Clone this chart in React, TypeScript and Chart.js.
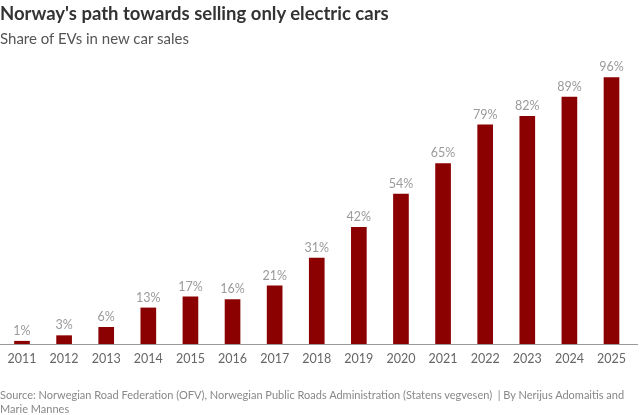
import React, { useEffect, useRef } from "react";
import { Chart, registerables } from "chart.js";

Chart.register(...registerables);

const years = ["2011", "2012", "2013", "2014", "2015", "2016", "2017", "2018", "2019", "2020", "2021", "2022", "2023", "2024", "2025"];
const evShare = [1, 3, 6, 13, 17, 16, 21, 31, 42, 54, 65, 79, 82, 89, 96];

const FONT = "Lato, 'Noto Sans', sans-serif";

const barLabels = {
  id: "barLabels",
  afterDatasetsDraw(chart: any) {
    const ctx = chart.ctx;
    const meta = chart.getDatasetMeta(0);
    ctx.save();
    ctx.font = `12.5px ${FONT}`;
    ctx.fillStyle = "#9a9a9a";
    ctx.textAlign = "center";
    ctx.textBaseline = "bottom";
    meta.data.forEach((el: any, i: number) => {
      ctx.fillText(`${evShare[i]}%`, el.x, el.y - 4);
    });
    ctx.restore();
  },
};

const baseLine = {
  id: "baseLine",
  afterDatasetsDraw(chart: any) {
    const ctx = chart.ctx;
    const y = chart.chartArea.bottom + 0.5;
    ctx.save();
    ctx.strokeStyle = "#9a9a9a";
    ctx.lineWidth = 1;
    ctx.beginPath();
    ctx.moveTo(0, y);
    ctx.lineTo(638, y);
    ctx.stroke();
    ctx.restore();
  },
};

export default function App() {
  const ref = useRef<HTMLCanvasElement>(null);
  useEffect(() => {
    document.body.style.margin = "0";
    const chart = new Chart(ref.current!, {
      type: "bar",
      data: {
        labels: years,
        datasets: [
          {
            data: evShare,
            backgroundColor: "#8b0000",
            barThickness: 15,
            clip: false as any,
          },
        ],
      },
      options: {
        animation: false,
        responsive: false,
        maintainAspectRatio: false,
        layout: { padding: { left: 13.5, right: 28.5, top: 66.5, bottom: 41 } },
        plugins: { legend: { display: false }, tooltip: { enabled: false }, title: { display: false } },
        scales: {
          x: {
            offset: false,
            grid: { display: false, drawTicks: false },
            border: { display: false },
            ticks: { color: "#666", font: { family: FONT, size: 12.5 }, padding: 7.5, maxRotation: 0, autoSkip: false },
          },
          y: { display: false, min: 0, max: 100 },
        },
      },
      plugins: [barLabels, baseLine],
    });
    return () => chart.destroy();
  }, []);

  return (
    <div style={{ position: "relative", width: 640, height: 415, fontFamily: FONT, overflow: "hidden" }}>
      <canvas ref={ref} width={640} height={415} style={{ position: "absolute", left: 0, top: 0 }} />
      <div style={{ position: "absolute", left: 0, top: 2, fontSize: 18.5, fontWeight: 700, color: "#333", whiteSpace: "nowrap" }}>
        Norway's path towards selling only electric cars
      </div>
      <div style={{ position: "absolute", left: 0, top: 29, fontSize: 15, color: "#555", whiteSpace: "nowrap" }}>
        Share of EVs in new car sales
      </div>
      <div style={{ position: "absolute", left: 0, top: 388, fontSize: 11, lineHeight: "13.5px", color: "#888", whiteSpace: "nowrap" }}>
        Source: Norwegian Road Federation (OFV), Norwegian Public Roads Administration (Statens vegvesen)&nbsp; | By Nerijus Adomaitis and
        <br />
        Marie Mannes
      </div>
    </div>
  );
}
